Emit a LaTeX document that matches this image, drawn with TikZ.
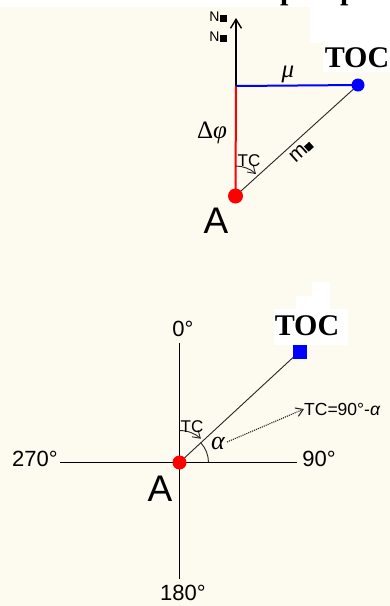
\documentclass[tikz,border=0pt]{standalone}
\usepackage{fontspec}
\setmainfont{Liberation Serif}
\setsansfont{Liberation Sans}
\usetikzlibrary{arrows.meta}
\definecolor{cream}{RGB}{253,250,240}
\begin{document}
\begin{tikzpicture}[x=1pt,y=1pt,
  axis/.style={line width=1.4pt, black},
  thinline/.style={line width=0.9pt, black!85},
  reddot/.style={circle, fill=red, inner sep=0pt, minimum size=15pt},
  bluedot/.style={circle, fill=blue, inner sep=0pt, minimum size=13pt},
  bluesq/.style={rectangle, fill=blue, inner sep=0pt, minimum size=14pt},
  bigA/.style={font=\sffamily\fontsize{37}{40}\selectfont, inner sep=0pt},
  deg/.style={font=\sffamily\fontsize{22}{24}\selectfont, inner sep=0pt},
  small/.style={font=\sffamily\fontsize{17}{18}\selectfont, inner sep=0pt},
  toclbl/.style={font=\bfseries\fontsize{30}{32}\selectfont, inner sep=0pt},
  greek/.style={font=\itshape\fontsize{25}{27}\selectfont, inner sep=0pt},
  barb/.style={-{Straight Barb[length=7pt,width=9pt]}}
]
\useasboundingbox (0,0) rectangle (390,-606);
% background
\fill[white] (0,0) rectangle (390,-606);
\fill[cream] (0,-7) rectangle (390,-606);
\fill[white] (310,0) rectangle (390,-43);
\fill[white] (323,-43) rectangle (390,-72);
\fill[white] (312,-282) rectangle (330,-296);
\fill[white] (296,-296) rectangle (330,-309);
\fill[white] (274,-309) rectangle (348,-345);
% cut-off title fragments
\node[anchor=base west, inner sep=0pt, font=\bfseries\fontsize{30}{30}\selectfont] (p1) at (280,1) {p};
\node[anchor=base west, inner sep=0pt, font=\bfseries\fontsize{30}{30}\selectfont] (p2) at (340,1) {p};

% ---------- top diagram ----------
\coordinate (N1) at (236,-18);
\coordinate (M1) at (236,-86);
\coordinate (A1) at (235.5,-196);
\coordinate (T1) at (358,-85);
\draw[axis, -{Straight Barb[length=9pt,width=11pt]}] (M1) -- (N1);
\draw[red, line width=2pt] (A1) -- (M1);
\draw[blue, line width=2pt] (M1) -- (T1);
\draw[thinline] (A1) -- (T1);
\draw[thinline, barb] ([shift={(90:30)}]A1) arc[start angle=90, end angle=47, radius=30];
\node[reddot] (A1dot) at (A1) {};
\node[bluedot] (T1dot) at (T1) {};
\node[inner sep=0pt, font=\sffamily\fontsize{14}{15}\selectfont] (n1) at (218,-17) {N\rule{7pt}{7pt}};
\node[inner sep=0pt, font=\sffamily\fontsize{14}{15}\selectfont] (n2) at (218,-37) {N\rule{7pt}{7pt}};
\node[toclbl] (toc1) at (357,-58) {TOC};
\node[greek] (mu) at (288,-74) {μ};
\node[font=\fontsize{25}{27}\selectfont, inner sep=0pt] (dphi) at (212,-133) {Δ\textit{φ}};
\node[small] (tc1) at (249,-161) {TC};
\node[inner sep=0pt, font=\sffamily\fontsize{21}{23}\selectfont, rotate=42] (m1) at (301,-151) {m\rule{7pt}{7pt}};
\node[bigA] (lblA1) at (216,-221) {A};

% ---------- bottom diagram ----------
\coordinate (A2) at (179.5,-462.5);
\coordinate (up2) at (179.5,-343);
\coordinate (dn2) at (179.5,-579);
\coordinate (lf2) at (60,-462.5);
\coordinate (rt2) at (297,-462.5);
\coordinate (T2) at (299.5,-351.5);
\draw[axis] (up2) -- (dn2);
\draw[axis] (lf2) -- (rt2);
\draw[thinline] (A2) -- (T2);
\draw[thinline, barb] ([shift={(90:32)}]A2) arc[start angle=90, end angle=48, radius=32];
\draw[thinline] ([shift={(0:29)}]A2) arc[start angle=0, end angle=43, radius=29];
\node[reddot, minimum size=14pt] (A2dot) at (A2) {};
\node[bluesq] (T2sq) at (T2) {};
\node[toclbl] (toc2) at (307,-326) {TOC};
\node[deg] (d0) at (183,-329) {0°};
\node[deg] (d270) at (35,-459) {270°};
\node[deg] (d90) at (319,-459) {90°};
\node[deg] (d180) at (183,-593) {180°};
\node[bigA] (lblA2) at (160,-489) {A};
\node[small] (tc2) at (192,-427) {TC};
\node[greek, font=\itshape\fontsize{26}{28}\selectfont] (alpha) at (218,-443) {α};
\node[inner sep=0pt, font=\sffamily\fontsize{17.5}{19}\selectfont, anchor=west] (tcf) at (304,-409) {TC=90°-\textit{α}};
\draw[line width=1.1pt, black!85, densely dotted, barb] (alpha.east) ++(2,1) coordinate (ds) -- (tcf.west);
\end{tikzpicture}
\end{document}
